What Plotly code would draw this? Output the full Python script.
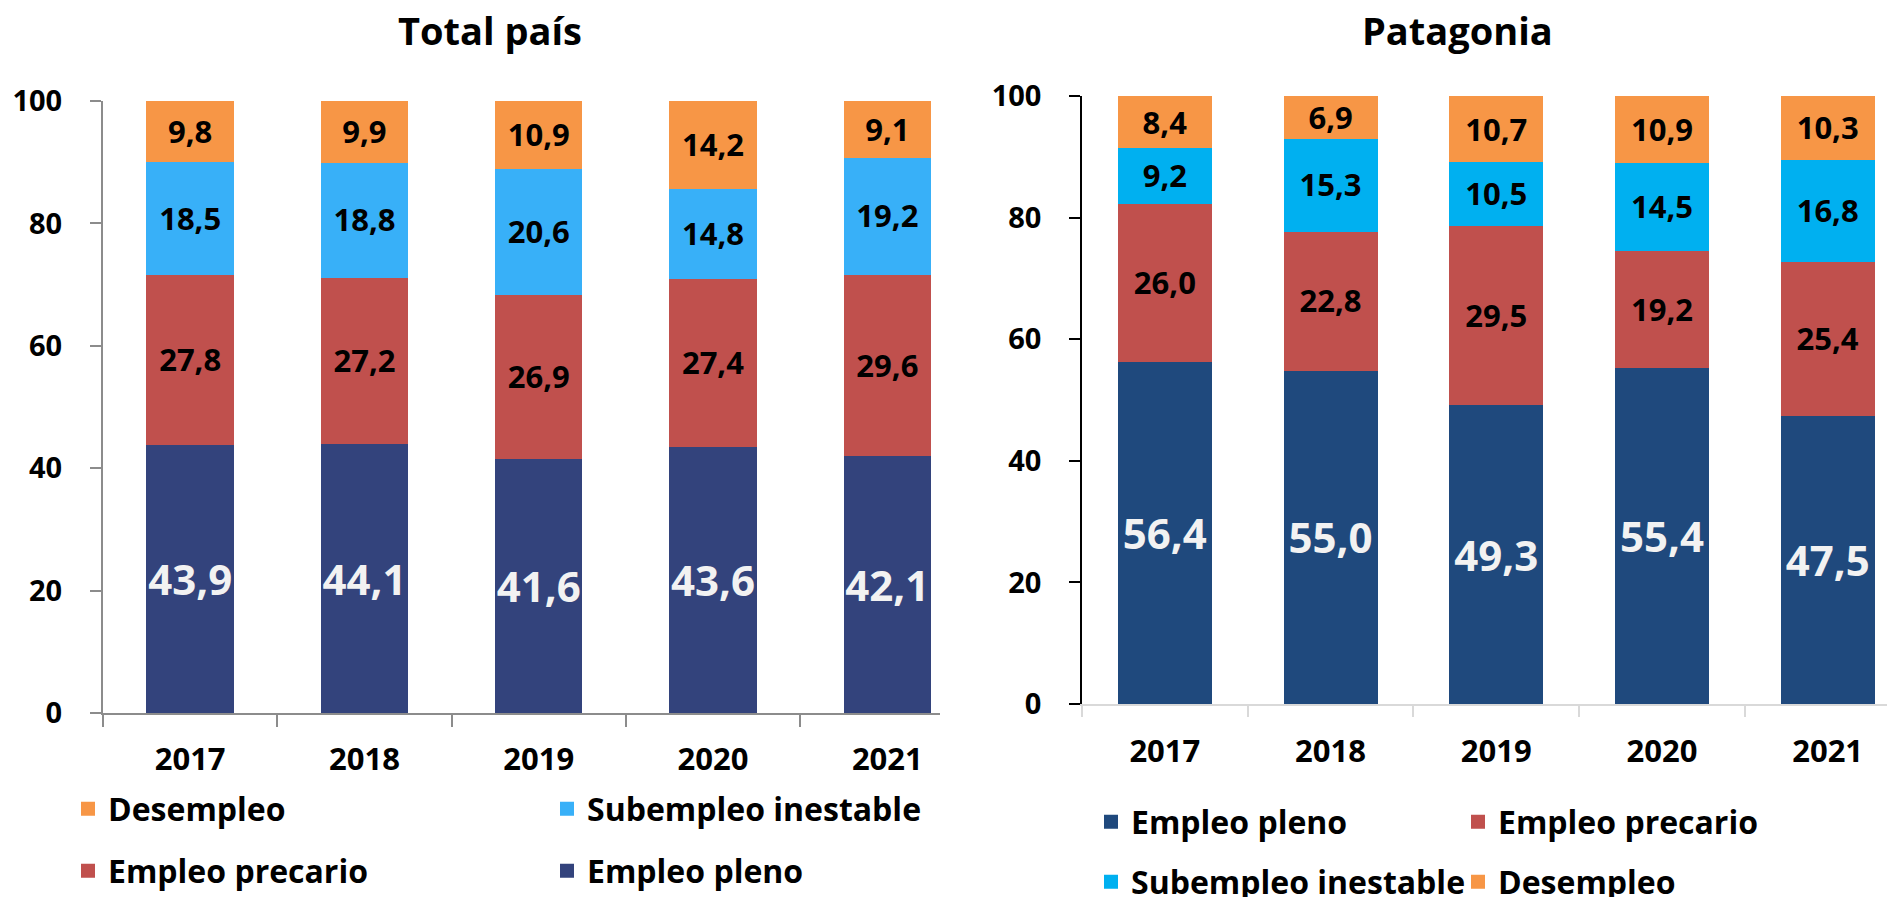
import plotly.graph_objects as go

YEARS = ["2017", "2018", "2019", "2020", "2021"]
SERIES = ["Empleo pleno", "Empleo precario", "Subempleo inestable", "Desempleo"]

# Total país
TOTAL_PLENO = [43.9, 44.1, 41.6, 43.6, 42.1]
TOTAL_PRECARIO = [27.8, 27.2, 26.9, 27.4, 29.6]
TOTAL_SUBEMPLEO = [18.5, 18.8, 20.6, 14.8, 19.2]
TOTAL_DESEMPLEO = [9.8, 9.9, 10.9, 14.2, 9.1]

# Patagonia
PAT_PLENO = [56.4, 55.0, 49.3, 55.4, 47.5]
PAT_PRECARIO = [26.0, 22.8, 29.5, 19.2, 25.4]
PAT_SUBEMPLEO = [9.2, 15.3, 10.5, 14.5, 16.8]
PAT_DESEMPLEO = [8.4, 6.9, 10.7, 10.9, 10.3]

Y_TICKS = [0, 20, 40, 60, 80, 100]

FONT = "Open Sans, Liberation Sans, Arial, sans-serif"

# the page has an 8px body margin, so the figure sits at (8, 8)
OFF = 8
W, H = 1895 - OFF, 897 - OFF


def fx(px):
    return (px - OFF) / W


def fy(py):
    return 1 - (py - OFF) / H


LEFT_COLORS = ["#33437C", "#C0504D", "#38B0F8", "#F79646"]
RIGHT_COLORS = ["#1F497D", "#C0504D", "#00B0F0", "#F79646"]

fig = go.Figure()

left_data = [TOTAL_PLENO, TOTAL_PRECARIO, TOTAL_SUBEMPLEO, TOTAL_DESEMPLEO]
right_data = [PAT_PLENO, PAT_PRECARIO, PAT_SUBEMPLEO, PAT_DESEMPLEO]

# legend rows: left chart (Desempleo / Subempleo), (precario / pleno)
# right chart (pleno / precario), (Subempleo / Desempleo)
left_legends = ["legend2", "legend2", "legend", "legend"]
right_legends = ["legend3", "legend3", "legend4", "legend4"]

for i, name in enumerate(SERIES):
    white = i == 0
    tf = dict(family=FONT, size=42 if white else 31, weight="bold",
              color="#F2F2F2" if white else "#000000")
    fig.add_trace(go.Bar(
        x=YEARS, y=left_data[i], name=name, xaxis="x", yaxis="y",
        width=0.49, marker=dict(color=LEFT_COLORS[i], line=dict(color=LEFT_COLORS[i], width=2)),
        texttemplate="%{y:.1f}", textposition="inside", insidetextanchor="middle",
        textangle=0, constraintext="none", textfont=tf, cliponaxis=False,
        legend=left_legends[i],
    ))
    fig.add_trace(go.Bar(
        x=YEARS, y=right_data[i], name=name, xaxis="x2", yaxis="y2",
        width=0.555, marker=dict(color=RIGHT_COLORS[i], line=dict(color=RIGHT_COLORS[i], width=2)),
        texttemplate="%{y:.1f}", textposition="inside", insidetextanchor="middle",
        textangle=0, constraintext="none", textfont=tf, cliponaxis=False,
        legend=right_legends[i],
    ))

tick_font = dict(family=FONT, size=29, weight="bold", color="#000000")
xtick_font = dict(family=FONT, size=31, weight="bold", color="#000000")
legend_font = dict(family=FONT, size=32, weight="bold", color="#000000")


def legend_cfg(x, y, width, order):
    return dict(orientation="h", x=fx(x), y=fy(y), xanchor="left", yanchor="middle",
                xref="paper", yref="paper", entrywidth=width, entrywidthmode="pixels",
                font=legend_font, bgcolor="rgba(0,0,0,0)", traceorder=order,
                itemclick=False, itemdoubleclick=False)


fig.update_layout(
    width=W, height=H, autosize=False,
    margin=dict(l=0, r=0, t=0, b=0, autoexpand=False),
    paper_bgcolor="white", plot_bgcolor="white",
    separators=", ",
    barmode="stack",
    showlegend=True,
    font=dict(family=FONT),
    xaxis=dict(
        domain=[fx(103), fx(940)], range=[-0.5, -0.5 + 837 / 174.3], type="category",
        anchor="y", showline=True, linecolor="#8C8C8C", linewidth=2,
        ticks="outside", tickson="boundaries", ticklen=12, tickcolor="#8C8C8C", tickwidth=2,
        tickfont=xtick_font, showgrid=False, zeroline=False, ticklabelstandoff=18,
    ),
    yaxis=dict(
        domain=[fy(713), fy(101)], range=[0, 100.001], tickvals=Y_TICKS,
        anchor="x", showline=True, linecolor="#8C8C8C", linewidth=2,
        ticks="outside", ticklen=11, tickcolor="#8C8C8C", tickwidth=2,
        tickfont=tick_font, showgrid=False, zeroline=False, ticklabelstandoff=22,
    ),
    xaxis2=dict(
        domain=[fx(1082), 1.0], range=[-0.5, -0.5 + 813 / 165.7], type="category",
        anchor="y2", showline=True, linecolor="#D9D9D9", linewidth=2,
        ticks="outside", tickson="boundaries", ticklen=11, tickcolor="#D9D9D9", tickwidth=2,
        tickfont=xtick_font, showgrid=False, zeroline=False, ticklabelstandoff=19,
    ),
    yaxis2=dict(
        domain=[fy(704), fy(96)], range=[0, 100.001], tickvals=Y_TICKS,
        anchor="x2", showline=True, linecolor="#000000", linewidth=1.5,
        ticks="outside", ticklen=11, tickcolor="#000000", tickwidth=1.5,
        tickfont=tick_font, showgrid=False, zeroline=False, ticklabelstandoff=22,
    ),
    legend=legend_cfg(68, 809, 434, "reversed"),
    legend2=legend_cfg(68, 871, 434, "reversed"),
    legend3=legend_cfg(1091, 822, 322, "normal"),
    legend4=legend_cfg(1091, 882, 322, "normal"),
    annotations=[
        dict(text="Total país", x=fx(490), y=fy(30), xref="paper", yref="paper",
             xanchor="center", yanchor="middle", showarrow=False,
             font=dict(family=FONT, size=38, weight="bold", color="#000000")),
        dict(text="Patagonia", x=fx(1457), y=fy(30), xref="paper", yref="paper",
             xanchor="center", yanchor="middle", showarrow=False,
             font=dict(family=FONT, size=38, weight="bold", color="#000000")),
    ],
)

fig.write_html("out.html")
